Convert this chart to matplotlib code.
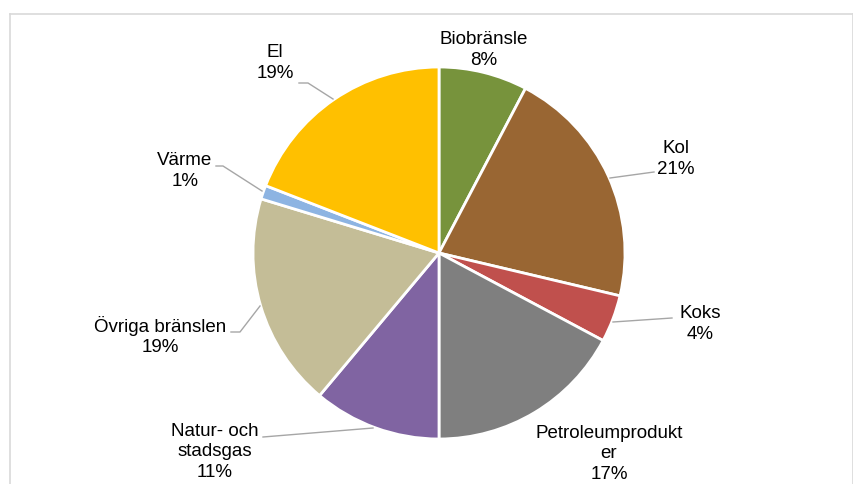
import matplotlib
matplotlib.use("Agg")
import matplotlib.pyplot as plt
from matplotlib.lines import Line2D

plt.rcParams['font.family'] = ['Liberation Sans', 'DejaVu Sans']

categories = ["Biobränsle", "Kol", "Koks", "Petroleumprodukt\ner", "Natur- och\nstadsgas",
              "Övriga bränslen", "Värme", "El"]
values = [7.7, 21.0, 4.1, 17.2, 11.1, 18.6, 1.2, 19.1]
colors = ["#77933C", "#996633", "#C0504D", "#7F7F7F", "#8064A2", "#C4BD97", "#8DB4E2", "#FFC000"]

# label text centres (pixels from top-left)
label_pos = [(484, 50), (676, 159), (700, 324), (609, 454), (215, 452), (160, 336), (185, 171), (275, 63)]
# leader lines (pixel polylines)
leaders = [None,
           [(654, 172), (610, 178)],
           [(672, 318), (613, 322)],
           None,
           [(263, 437), (373, 428)],
           [(231, 332), (240, 332), (260, 306)],
           [(216, 166), (223, 166), (262, 191)],
           [(299, 83), (308, 83), (333, 99)]]

W, H = 854, 484
fig = plt.figure(figsize=(W / 100, H / 100), dpi=100)
ax = fig.add_axes([0, 0, 1, 1])

total = sum(values)
ax.pie(values, colors=colors, startangle=90, counterclock=False,
       center=(439, H - 253), radius=186,
       wedgeprops=dict(edgecolor="white", linewidth=2))
ax.set_xlim(0, W)
ax.set_ylim(0, H)
ax.set_aspect("equal")
ax.axis("off")

for cat, v, (x, y) in zip(categories, values, label_pos):
    ax.text(x, H - y, f"{cat}\n{v / total * 100:.0f}%", ha="center", va="center",
            fontsize=13.5, color="#000000", linespacing=1.3)

for ln in leaders:
    if ln:
        xs = [p[0] for p in ln]
        ys = [H - p[1] for p in ln]
        ax.plot(xs, ys, color="#A6A6A6", lw=1)

# outer chart frame
for seg in [[(10, 14), (853, 14)], [(10, 14), (10, 484)], [(853, 14), (853, 484)]]:
    fig.add_artist(Line2D([seg[0][0] / W, seg[1][0] / W], [1 - seg[0][1] / H, 1 - seg[1][1] / H],
                          color="#D9D9D9", lw=1.2))

fig.savefig("out.png", dpi=100)
